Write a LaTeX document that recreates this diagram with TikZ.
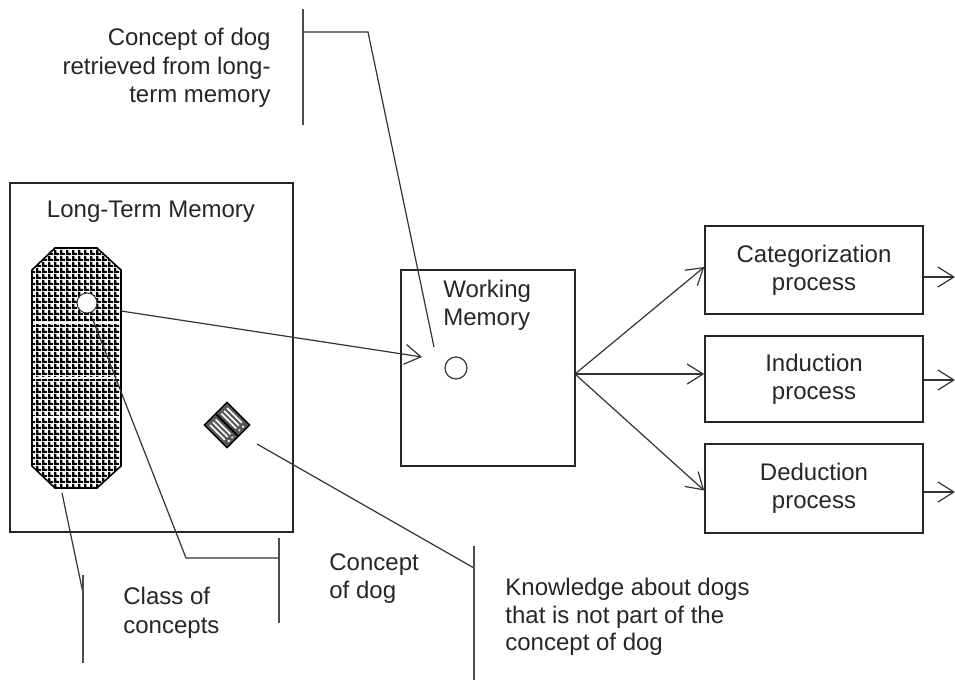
\documentclass[tikz,border=0pt]{standalone}
\usepackage{fontspec}
\setmainfont{Liberation Sans}
\usetikzlibrary{arrows.meta,patterns,calc}
\pgfdeclarepatternformonly{dither}{\pgfpointorigin}{\pgfpoint{3pt}{3pt}}{\pgfpoint{3pt}{3pt}}{%
  \pgfpathrectangle{\pgfpointorigin}{\pgfpoint{3pt}{1.3pt}}%
  \pgfpathrectangle{\pgfpoint{0pt}{1.3pt}}{\pgfpoint{1.4pt}{1.7pt}}%
  \pgfusepath{fill}}
\tikzset{
  boxnode/.style={draw=black!85, line width=0.8pt, inner sep=0pt, rectangle},
  lbl/.style={font=\fontsize{12}{14}\selectfont, inner sep=0pt, text=black!85},
  conn/.style={draw=black!80, line width=0.6pt},
  arr/.style={conn, -{Straight Barb[length=8pt,width=10pt]}},
  barline/.style={draw=black!70, line width=0.8pt},
  procbox/.style={boxnode, minimum width=109pt, align=center, font=\fontsize{12}{14}\selectfont, text=black!85}
}
\begin{document}
\begin{tikzpicture}[x=0.5pt,y=-0.5pt]
\useasboundingbox (0,0) rectangle (955,681);

% Long-term memory box
\node[boxnode, minimum width=141.5pt, minimum height=174.5pt] (ltm) at (151.5,357.5) {};
\node[lbl, anchor=base] (ltmlbl) at (151,217) {Long-Term Memory};

% class of concepts (octagon)
\fill[pattern=dither, pattern color=black] (55,248) -- (97,248) -- (121,270) -- (121,466) -- (97,488) -- (55,488) -- (32,466) -- (32,270) -- cycle;
\begin{scope}
  \clip (55,248) -- (97,248) -- (121,270) -- (121,466) -- (97,488) -- (55,488) -- (32,466) -- (32,270) -- cycle;
  \draw[white, line width=1pt] (30,323) -- (125,323) (30,378) -- (125,378) (30,417) -- (125,417);
\end{scope}
\draw[black, line width=0.8pt] (55,248) -- (97,248) -- (121,270) -- (121,466) -- (97,488) -- (55,488) -- (32,466) -- (32,270) -- cycle;
\node[circle, draw=black!80, fill=white, line width=0.5pt, minimum size=10pt, inner sep=0pt] (dogc) at (87,303) {};

% knowledge diamond
\begin{scope}[shift={(227,425)}, rotate=45]
  \draw[black, fill=black!65, line width=0.7pt] (-16,-16) rectangle (16,16);
  \foreach \x in {-12,-8,-4,4,8,12} \draw[white, line width=0.8pt] (\x,-12) -- (\x,9);
  \draw[black, line width=1pt] (0,-16) -- (0,16);
  \foreach \x in {-10,-5,5,10} \fill[white] (\x,12.5) circle (1.2);
\end{scope}
\coordinate (diam) at (257,444);

% Working memory
\node[boxnode, minimum width=87pt, minimum height=98pt] (wm) at (488,368) {};
\node[lbl, anchor=base west] (wm1) at (443,297) {Working};
\node[lbl, anchor=base west] (wm2) at (443,325) {Memory};
\node[circle, draw=black!80, line width=0.6pt, minimum size=11pt, inner sep=0pt] (wmc) at (456,368) {};

% process boxes
\node[procbox, minimum height=44pt] (cat) at (814,270) {Categorization\\process};
\node[procbox, minimum height=43pt] (ind) at (814,379) {Induction\\process};
\node[procbox, minimum height=44.5pt] (ded) at (814,488.5) {Deduction\\process};

% connectors
\coordinate (octR) at (121,311);
\coordinate (wmin) at (422,357);
\draw[arr] (octR) -- (wmin);

\coordinate (wmout) at (575,374);
\draw[arr] (wmout) -- ($(cat.west)+(0,-3)$);
\draw[arr] (wmout) -- (ind.west |- wmout);
\draw[arr] (wmout) -- ($(ded.west)+(0,2)$);

\coordinate (catout) at (955,277);
\coordinate (indout) at (955,380);
\coordinate (dedout) at (955,492);
\draw[arr] (cat.east |- catout) -- (catout);
\draw[arr] (ind.east |- indout) -- (indout);
\draw[arr] (ded.east |- dedout) -- (dedout);

% label: concept retrieved
\node[lbl, anchor=base east] (ret1) at (271,45) {Concept of dog};
\node[lbl, anchor=base east] (ret2) at (271,74) {retrieved from long-};
\node[lbl, anchor=base east] (ret3) at (271,102) {term memory};
\coordinate (retbarT) at (303,9);
\coordinate (retbarB) at (303,125);
\draw[barline] (retbarT) -- (retbarB);
\coordinate (retbarM) at (303,32);
\coordinate (retbend) at (368,32);
\coordinate (retend) at (434,347);
\draw[conn] (retbarM) -- (retbend) -- (retend);

% label: concept of dog
\coordinate (dogstart) at (93,320);
\coordinate (dogbend) at (186,558);
\coordinate (dogbarM) at (279,558);
\draw[conn] (dogstart) -- (dogbend) -- (dogbarM);
\coordinate (dogbarT) at (279,538);
\coordinate (dogbarB) at (279,623);
\draw[barline] (dogbarT) -- (dogbarB);
\node[lbl, anchor=base west] (dog1) at (329,570) {Concept};
\node[lbl, anchor=base west] (dog2) at (329,598) {of dog};

% label: class of concepts
\coordinate (clsstart) at (62,493);
\coordinate (clsend) at (83,593);
\draw[conn] (clsstart) -- (clsend);
\coordinate (clsbarT) at (83,575);
\coordinate (clsbarB) at (83,663);
\draw[barline] (clsbarT) -- (clsbarB);
\node[lbl, anchor=base west] (cls1) at (123,604) {Class of};
\node[lbl, anchor=base west] (cls2) at (123,633) {concepts};

% label: knowledge
\coordinate (knend) at (474,568);
\draw[conn] (diam) -- (knend);
\coordinate (knbarT) at (474,546);
\coordinate (knbarB) at (474,680);
\draw[barline] (knbarT) -- (knbarB);
\node[lbl, anchor=base west] (kn1) at (505,595) {Knowledge about dogs};
\node[lbl, anchor=base west] (kn2) at (505,623) {that is not part of the};
\node[lbl, anchor=base west] (kn3) at (505,650) {concept of dog};
\end{tikzpicture}
\end{document}
